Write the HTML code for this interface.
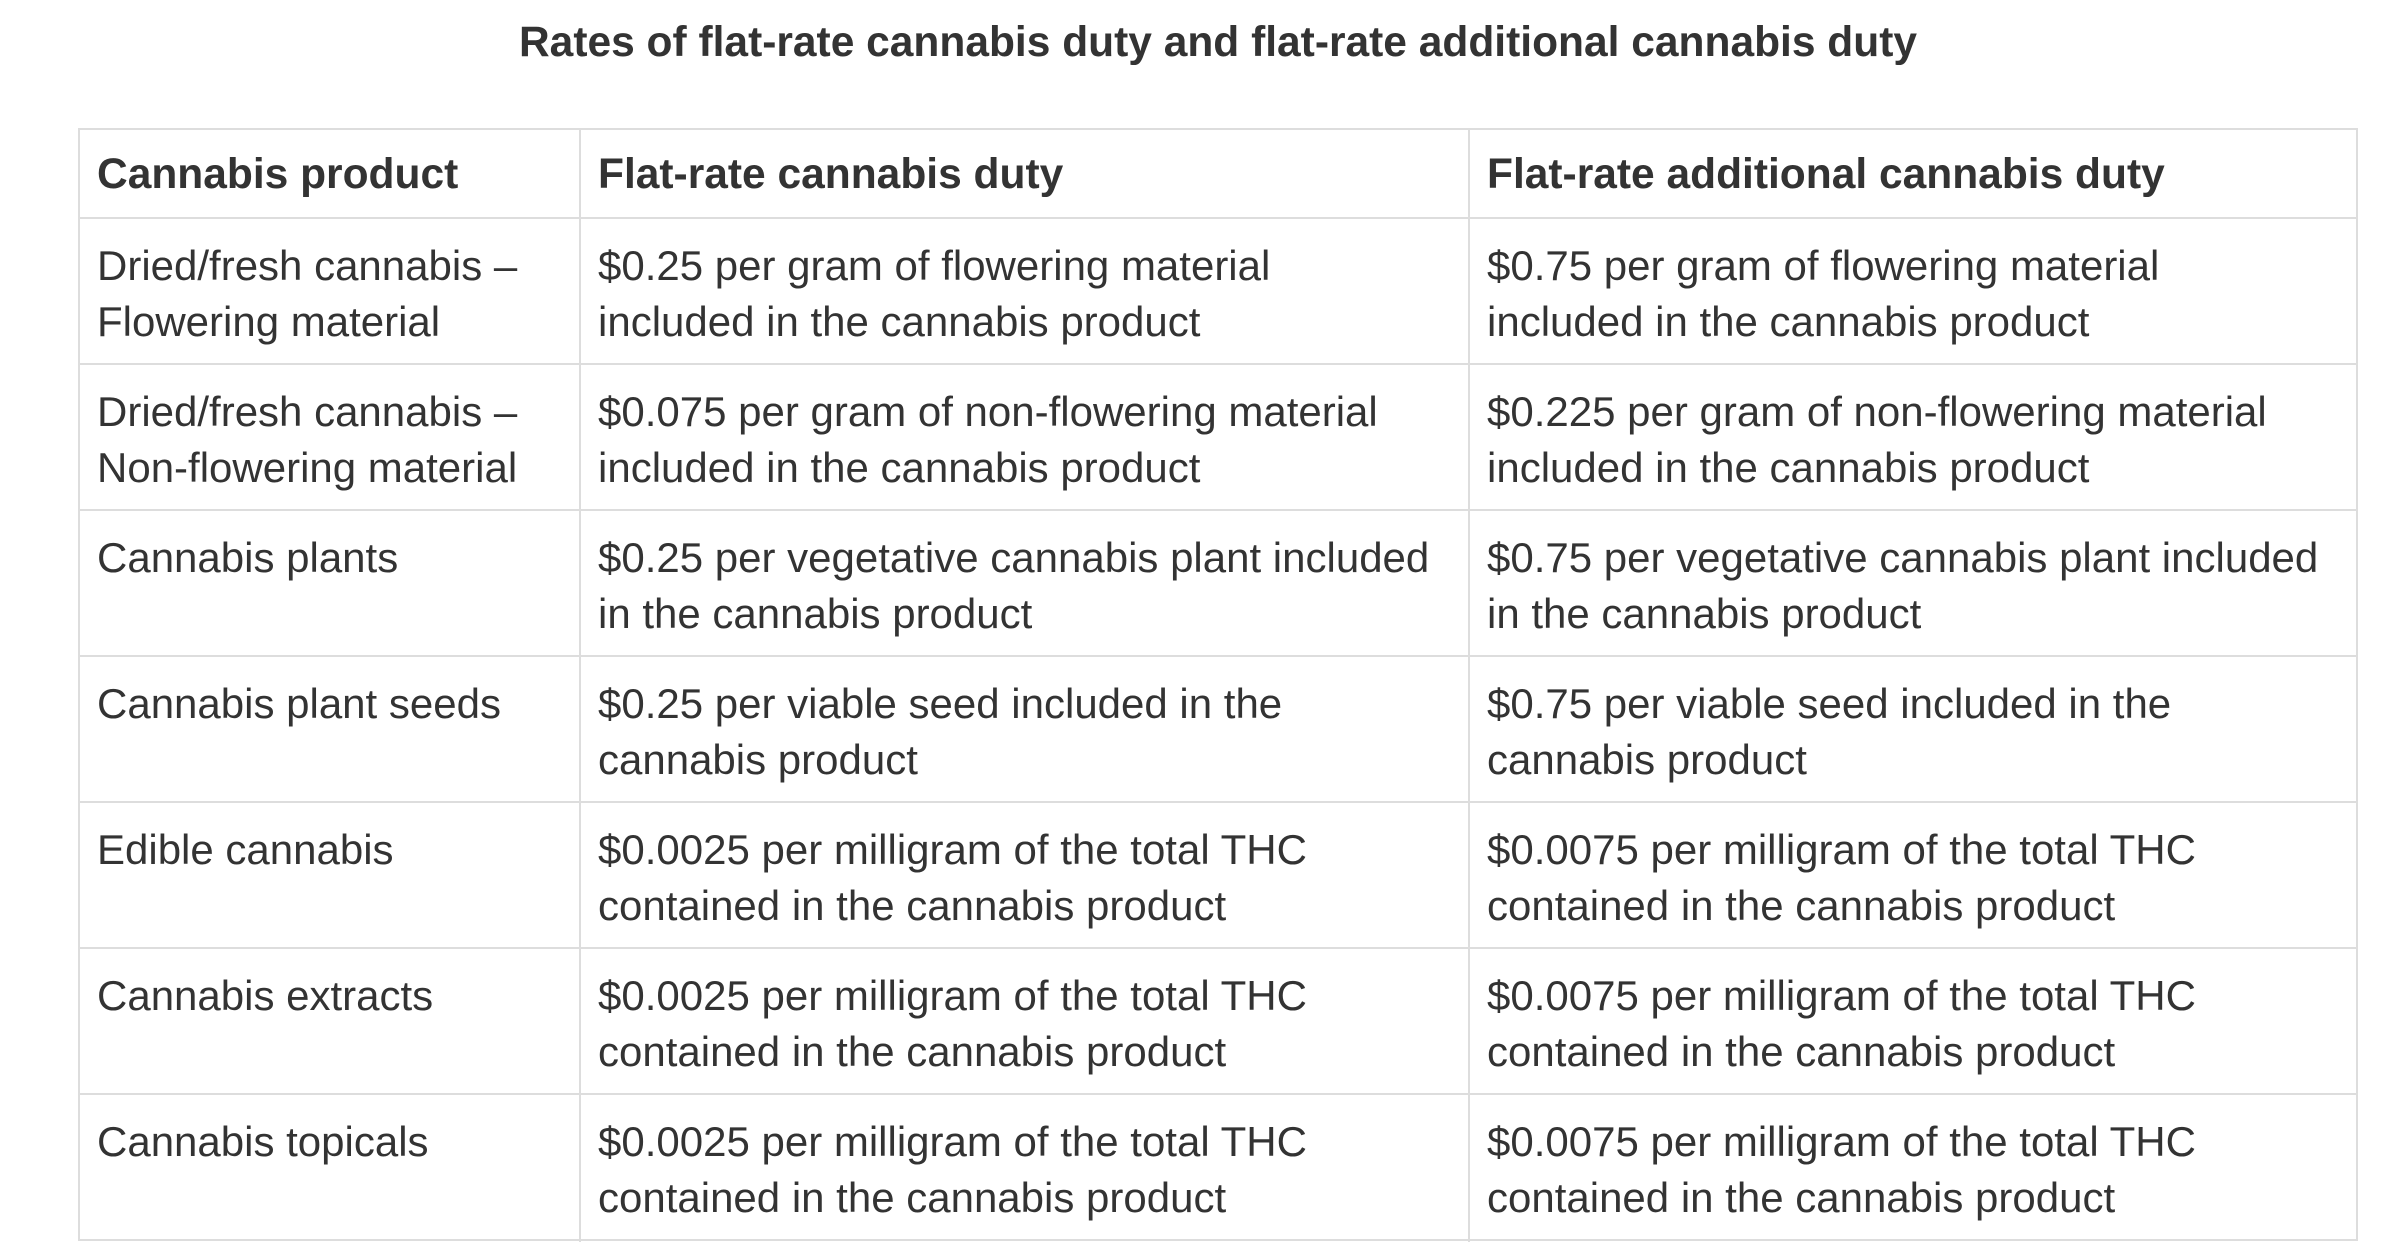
<!DOCTYPE html>
<html><head><meta charset="utf-8"><style>
body{margin:0;background:#fff;width:2382px;height:1260px;overflow:hidden;position:relative;font-family:"Liberation Sans",Arial,sans-serif;color:#333}
.t{position:absolute;white-space:nowrap;font-size:42px;line-height:56px}
.b{font-weight:bold;font-size:42.5px}
.h{position:absolute;left:79px;width:2278px;height:2px;background:#ddd}
.v{position:absolute;top:129px;height:1113px;width:2px;background:#ddd}
</style></head><body>
<div class="t b" style="left:0;width:2436px;text-align:center;top:15px;font-size:42.5px">Rates of flat-rate cannabis duty and flat-rate additional cannabis duty</div>
<div class="h" style="top:128px"></div>
<div class="h" style="top:217px"></div>
<div class="h" style="top:363px"></div>
<div class="h" style="top:509px"></div>
<div class="h" style="top:655px"></div>
<div class="h" style="top:801px"></div>
<div class="h" style="top:947px"></div>
<div class="h" style="top:1093px"></div>
<div class="h" style="top:1239px"></div>
<div class="v" style="left:78px;top:128px"></div>
<div class="v" style="left:579px"></div>
<div class="v" style="left:1468px"></div>
<div class="v" style="left:2356px;top:128px"></div>

<div class="t b" style="left:97px;top:147px">Cannabis product</div>
<div class="t b" style="left:598px;top:147px">Flat-rate cannabis duty</div>
<div class="t b" style="left:1487px;top:147px">Flat-rate additional cannabis duty</div>

<div class="t" style="left:97px;top:238px">Dried/fresh cannabis –<br>Flowering material</div>
<div class="t" style="left:598px;top:238px">$0.25 per gram of flowering material<br>included in the cannabis product</div>
<div class="t" style="left:1487px;top:238px">$0.75 per gram of flowering material<br>included in the cannabis product</div>

<div class="t" style="left:97px;top:384px">Dried/fresh cannabis –<br>Non-flowering material</div>
<div class="t" style="left:598px;top:384px">$0.075 per gram of non-flowering material<br>included in the cannabis product</div>
<div class="t" style="left:1487px;top:384px">$0.225 per gram of non-flowering material<br>included in the cannabis product</div>

<div class="t" style="left:97px;top:530px">Cannabis plants</div>
<div class="t" style="left:598px;top:530px">$0.25 per vegetative cannabis plant included<br>in the cannabis product</div>
<div class="t" style="left:1487px;top:530px">$0.75 per vegetative cannabis plant included<br>in the cannabis product</div>

<div class="t" style="left:97px;top:676px">Cannabis plant seeds</div>
<div class="t" style="left:598px;top:676px">$0.25 per viable seed included in the<br>cannabis product</div>
<div class="t" style="left:1487px;top:676px">$0.75 per viable seed included in the<br>cannabis product</div>

<div class="t" style="left:97px;top:822px">Edible cannabis</div>
<div class="t" style="left:598px;top:822px">$0.0025 per milligram of the total THC<br>contained in the cannabis product</div>
<div class="t" style="left:1487px;top:822px">$0.0075 per milligram of the total THC<br>contained in the cannabis product</div>

<div class="t" style="left:97px;top:968px">Cannabis extracts</div>
<div class="t" style="left:598px;top:968px">$0.0025 per milligram of the total THC<br>contained in the cannabis product</div>
<div class="t" style="left:1487px;top:968px">$0.0075 per milligram of the total THC<br>contained in the cannabis product</div>

<div class="t" style="left:97px;top:1114px">Cannabis topicals</div>
<div class="t" style="left:598px;top:1114px">$0.0025 per milligram of the total THC<br>contained in the cannabis product</div>
<div class="t" style="left:1487px;top:1114px">$0.0075 per milligram of the total THC<br>contained in the cannabis product</div>
</body></html>
